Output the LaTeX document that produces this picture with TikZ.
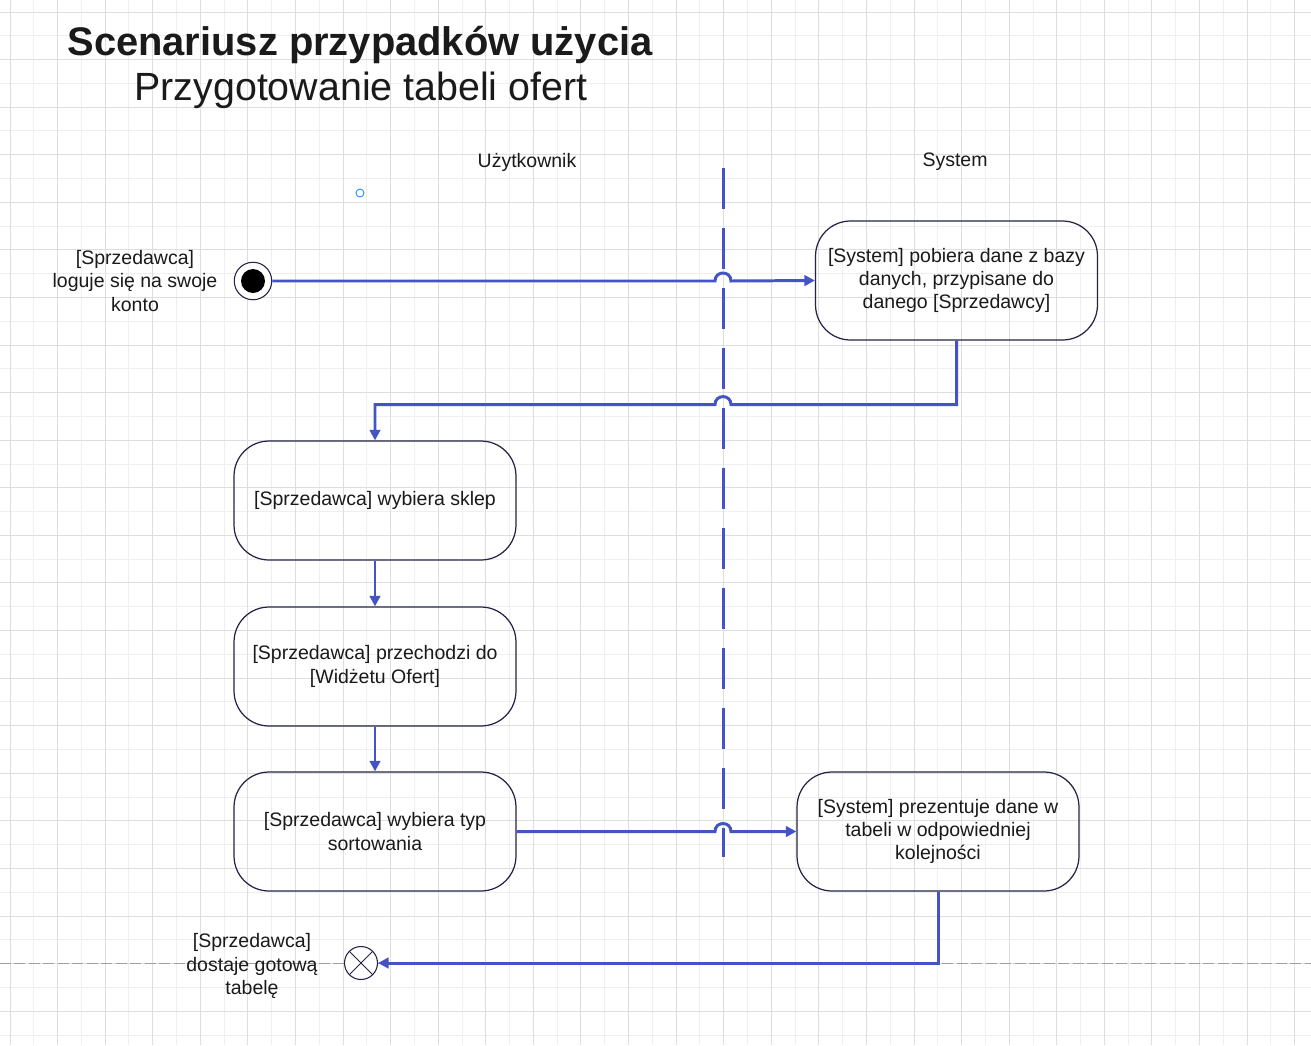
\documentclass[tikz,border=0pt]{standalone}
\usepackage{fontspec}
\setmainfont{Liberation Sans}
\usetikzlibrary{arrows.meta}

\definecolor{flowblue}{RGB}{68,84,196}
\definecolor{boxline}{RGB}{35,35,70}
\definecolor{inktext}{RGB}{26,26,26}
\definecolor{gridminor}{RGB}{239,239,239}
\definecolor{gridmajor}{RGB}{222,222,222}
\definecolor{pinblue}{RGB}{30,144,255}

\newcommand{\bodyfont}{\fontsize{11.1}{13.3}\selectfont}

\tikzset{
  activity/.style={draw=boxline, line width=0.7pt, rounded corners=0.7cm,
    minimum width=5.64cm, minimum height=2.38cm, inner sep=0pt,
    align=center, font=\bodyfont, text=inktext},
  caption/.style={align=center, font=\bodyfont, text=inktext, inner sep=0pt},
  flow/.style={draw=flowblue, line width=1.7pt, -{Triangle[length=6pt,width=6pt]}},
  lanesep/.style={draw=flowblue, line width=1.7pt, dash pattern=on 0.82cm off 0.38cm},
  hopright/.style={insert path={-- ([xshift=-0.16cm]#1)
    .. controls +(0,0.213cm) and +(0,0.213cm) .. ([xshift=0.16cm]#1)}},
  hopleft/.style={insert path={-- ([xshift=0.16cm]#1)
    .. controls +(0,0.213cm) and +(0,0.213cm) .. ([xshift=-0.16cm]#1)}}
}

\begin{document}
\begin{tikzpicture}[x=0.02cm, y=-0.02cm,
    startnode/.style={circle, draw=boxline, line width=0.6pt, minimum size=0.75cm,
      inner sep=0pt, fill=white,
      path picture={\fill[black] (path picture bounding box.center) circle (0.24cm);}},
    stopnode/.style={circle, draw=boxline, line width=0.6pt, minimum size=0.66cm,
      inner sep=0pt, fill=white,
      path picture={\draw[boxline, line width=0.5pt]
        (path picture bounding box.north west) -- (path picture bounding box.south east)
        (path picture bounding box.south west) -- (path picture bounding box.north east);}}]

  % paper and grid
  \fill[white] (0,0) rectangle (1311,1045);
  \useasboundingbox (0,0) rectangle (1311,1045);
  \foreach \k in {1,3,...,53} {
    \draw[gridminor, line width=0.55pt] ({10+23.79*\k},0) -- ({10+23.79*\k},1045);
  }
  \foreach \k in {1,3,...,43} {
    \draw[gridminor, line width=0.55pt] (0,{12+23.79*\k}) -- (1311,{12+23.79*\k});
  }
  \foreach \k in {0,2,...,54} {
    \draw[gridmajor, line width=0.55pt] ({10+23.79*\k},0) -- ({10+23.79*\k},1045);
  }
  \foreach \k in {0,2,...,42} {
    \draw[gridmajor, line width=0.55pt] (0,{12+23.79*\k}) -- (1311,{12+23.79*\k});
  }
  \draw[gray!75, line width=0.55pt, dash pattern=on 0.22cm off 0.07cm] (0,963) -- (1311,963);

  % title
  \node[font=\fontsize{22.7}{27}\selectfont\bfseries, text=inktext] (title) at (360,45)
    {Scenariusz przypadków użycia};
  \node[font=\fontsize{22.4}{27}\selectfont, text=inktext] (subtitle) at (361,90)
    {Przygotowanie tabeli ofert};

  % swimlanes
  \node[caption] (userLane) at (527,162) {Użytkownik};
  \node[caption] (sysLane) at (955,162) {System};
  \coordinate (lane) at (723,168);
  \coordinate (laneEnd) at (723,857);
  \draw[lanesep] (lane) -- (laneEnd);
  \node[circle, draw=pinblue, line width=0.5pt, minimum size=0.16cm, inner sep=0pt] (pin) at (360,193) {};

  % activities
  \node[startnode] (start) at (253,281) {};
  \node[caption] (loginText) at (135,281) {[Sprzedawca]\\loguje się na swoje\\konto};
  \node[activity] (fetch) at (956.5,280.5) {[System] pobiera dane z bazy\\danych, przypisane do\\danego [Sprzedawcy]};
  \node[activity] (shop) at (375,500.5) {[Sprzedawca] wybiera sklep};
  \node[activity] (widget) at (375,666.5) {[Sprzedawca] przechodzi do\\{}[Widżetu Ofert]};
  \node[activity] (sort) at (375,831.5) {[Sprzedawca] wybiera typ\\sortowania};
  \node[activity] (present) at (938,831.5) {[System] prezentuje dane w\\tabeli w odpowiedniej\\kolejności};
  \node[stopnode] (finish) at (361,963) {};
  \node[caption] (doneText) at (252,966) {[Sprzedawca]\\dostaje gotową\\tabelę};

  % flows
  \draw[flow] (start.east) [hopright={start.east -| lane}] -- (fetch.west);
  \draw[flow] (fetch.south) -- ++(0,64) coordinate (turn) [hopleft={turn -| lane}] -| (shop.north);
  \draw[flow] (shop) -- (widget);
  \draw[flow] (widget) -- (sort);
  \draw[flow] (sort.east) [hopright={sort.east -| lane}] -- (present.west);
  \draw[flow] (present.south) |- (finish);
\end{tikzpicture}
\end{document}
